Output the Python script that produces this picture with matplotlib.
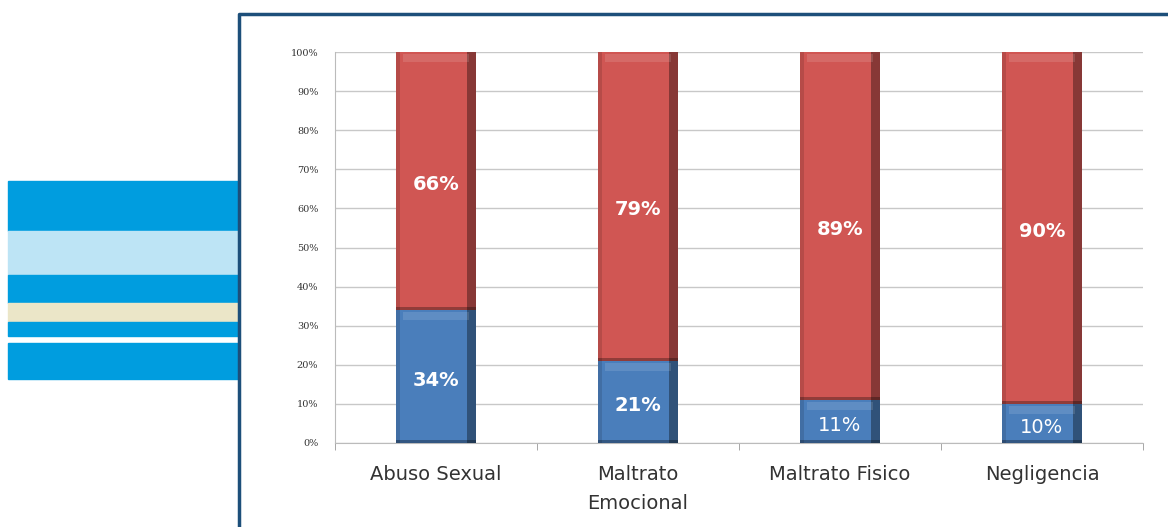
import matplotlib.pyplot as plt
from matplotlib.patches import Rectangle
from matplotlib.lines import Line2D
import numpy as np

categories = ["Abuso Sexual", "Maltrato\nEmocional", "Maltrato Fisico", "Negligencia"]
blue_vals = [34, 21, 11, 10]
red_vals = [66, 79, 89, 90]
yticks = [0, 10, 20, 30, 40, 50, 60, 70, 80, 90, 100]

RED = "#d05653"
BLUE = "#4a7ebb"

fig = plt.figure(figsize=(11.68, 5.27), dpi=100)

# left decorative stripes (pixels: top, bottom, colour)
stripes = [(181, 231, "#009ddf"), (231, 275, "#bde4f5"), (275, 303, "#009ddf"),
           (303, 322, "#ebe6c8"), (322, 336, "#009ddf"), (343, 379, "#009ddf")]
for top, bot, c in stripes:
    fig.patches.append(Rectangle((8 / 1168, 1 - bot / 527), 231 / 1168, (bot - top) / 527,
                                 transform=fig.transFigure, color=c, zorder=0))

# frame
fig.add_artist(Line2D([239 / 1168, 239 / 1168, 1.0], [0, 1 - 14 / 527, 1 - 14 / 527],
                      transform=fig.transFigure, color="#1d4f7a", lw=2.5))

ax = fig.add_axes([335 / 1168, 84 / 527, 808 / 1168, 391 / 527])
x = np.arange(len(categories))
w = 0.4

def bevel_bar(xc, bottom, h, color):
    ax.bar(xc, h, w, bottom=bottom, color=color, zorder=3)
    # dark right side, light top edge: a hint of the 3d bevel
    ax.bar(xc + w * 0.44, h, w * 0.12, bottom=bottom, color="black", alpha=0.35, zorder=4, lw=0)
    ax.bar(xc - w * 0.47, h, w * 0.06, bottom=bottom, color="black", alpha=0.12, zorder=4, lw=0)
    ax.bar(xc, 2.0, w * 0.82, bottom=bottom + h - 2.6, color="white", alpha=0.12, zorder=4, lw=0)
    ax.bar(xc, 0.8, w, bottom=bottom, color="black", alpha=0.3, zorder=4, lw=0)

for i in range(len(categories)):
    bevel_bar(x[i], 0, blue_vals[i], BLUE)
    bevel_bar(x[i], blue_vals[i], red_vals[i], RED)
    ax.text(x[i], blue_vals[i] + red_vals[i] / 2 - 0.8, f"{red_vals[i]}%", color="white",
            ha="center", va="center", fontsize=14, fontweight="bold", zorder=5)
    ax.text(x[i], blue_vals[i] / 2 - 1, f"{blue_vals[i]}%", color="white",
            ha="center", va="center", fontsize=14, fontweight="bold" if blue_vals[i] > 15 else "normal",
            zorder=5)

ax.set_xlim(-0.5, len(categories) - 0.5)
ax.set_ylim(0, 100)
ax.set_yticks(yticks)
ax.set_yticklabels([f"{v}%" for v in yticks], fontsize=7, family="DejaVu Serif", color="#333333")
ax.yaxis.grid(True, color="#c8c8c8", lw=1, zorder=0)
ax.set_axisbelow(True)

ax.set_xticks(x)
ax.set_xticklabels(categories, fontsize=14, color="#333333", va="top", linespacing=1.65)
ax.tick_params(axis="x", length=0, pad=16)
ax.set_xticks(np.arange(len(categories) + 1) - 0.5, minor=True)
ax.tick_params(axis="x", which="minor", length=5, color="#999999")
ax.tick_params(axis="y", length=0, pad=12)

for s in ["top", "right"]:
    ax.spines[s].set_visible(False)
ax.spines["left"].set_color("#bbbbbb")
ax.spines["bottom"].set_color("#bbbbbb")

fig.savefig("out.png", dpi=100)
